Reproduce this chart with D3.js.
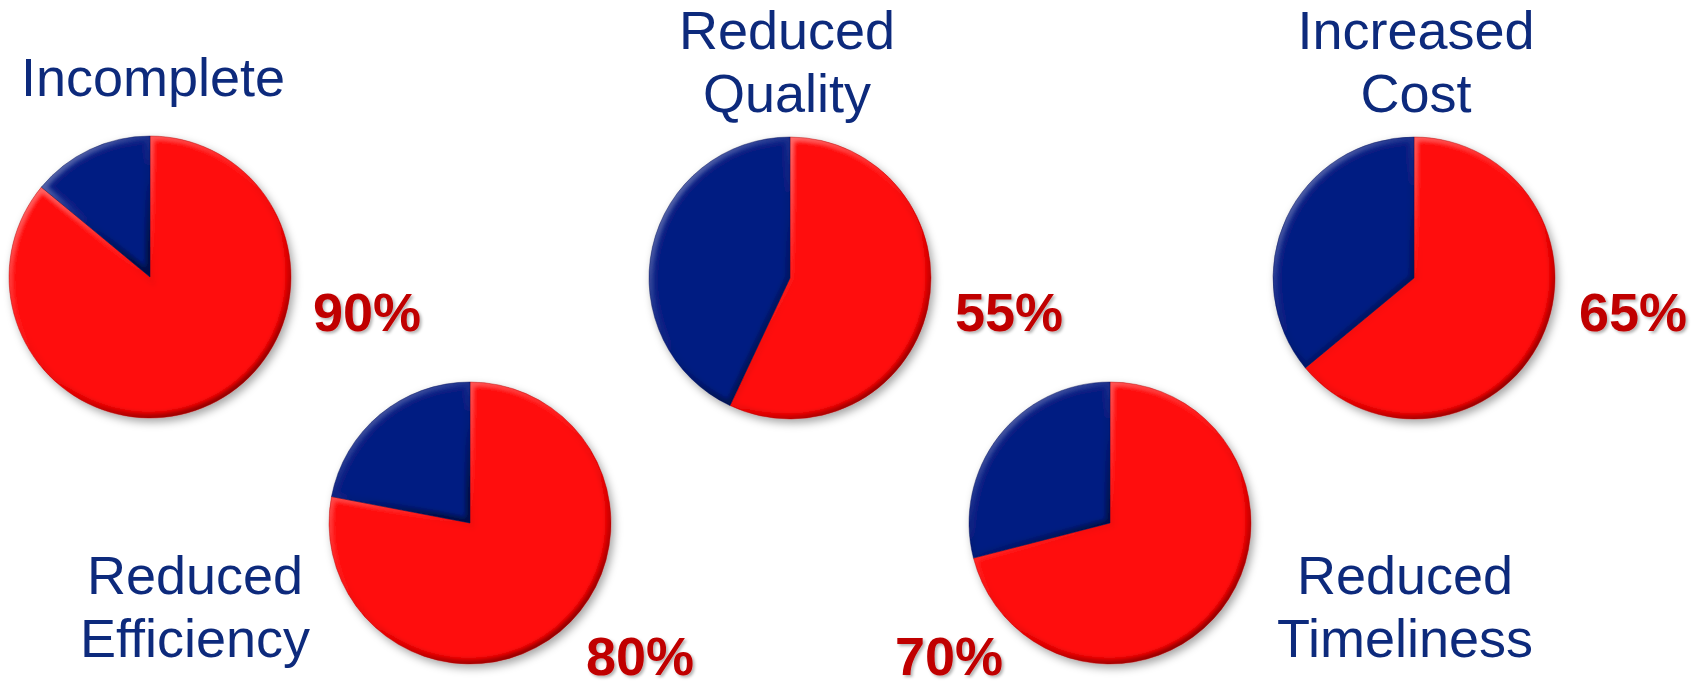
<!DOCTYPE html>
<html>
<head>
<meta charset="utf-8">
<script src="https://cdn.jsdelivr.net/npm/d3@7"></script>
<style>
  body { margin: 0; background: #fff; }
  svg { display: block; }
</style>
</head>
<body>
<div id="chart"></div>
<script>
// categories and values
var categories = ["Incomplete", "Reduced Efficiency", "Reduced Quality", "Reduced Timeliness", "Increased Cost"];
var titleLines = [["Incomplete"], ["Reduced", "Efficiency"], ["Reduced", "Quality"], ["Reduced", "Timeliness"], ["Increased", "Cost"]];
// red share as drawn (slice angle), blue is the rest
var redShare = [86, 78, 57, 71, 64];
var percentLabels = ["90%", "80%", "55%", "70%", "65%"];

var svgWidth = 1704;
var svgHeight = 681;
var radius = 141;

// where each pie and its texts sit
var layout = [
  { cx: 150,  cy: 277, tx: 153,  ty: 96,  px: 313,  py: 331 },
  { cx: 470,  cy: 523, tx: 195,  ty: 594, px: 586,  py: 675 },
  { cx: 790,  cy: 278, tx: 787,  ty: 49,  px: 955,  py: 331 },
  { cx: 1110, cy: 523, tx: 1405, ty: 594, px: 895,  py: 675 },
  { cx: 1414, cy: 278, tx: 1416, ty: 49,  px: 1579, py: 331 }
];

var color = d3.scaleOrdinal()
  .domain(["yes", "no"])
  .range(["#ff0707", "#061c82"]);

var svg = d3.select("#chart")
  .append("svg")
  .attr("width", svgWidth)
  .attr("height", svgHeight);

var defs = svg.append("defs");

var shadow = defs.append("filter")
  .attr("id", "shadow")
  .attr("x", "-20%").attr("y", "-20%")
  .attr("width", "150%").attr("height", "150%");
shadow.append("feDropShadow")
  .attr("dx", 3).attr("dy", 4)
  .attr("stdDeviation", 4)
  .attr("flood-color", "#000")
  .attr("flood-opacity", 0.35);

var textShadow = defs.append("filter")
  .attr("id", "textShadow")
  .attr("x", "-20%").attr("y", "-20%")
  .attr("width", "150%").attr("height", "150%");
textShadow.append("feDropShadow")
  .attr("dx", 2).attr("dy", 2)
  .attr("stdDeviation", 1.5)
  .attr("flood-color", "#000")
  .attr("flood-opacity", 0.3);

var soft = defs.append("filter").attr("id", "soft");
soft.append("feGaussianBlur").attr("stdDeviation", 2.2);

var rim = defs.append("linearGradient")
  .attr("id", "rim")
  .attr("x1", "0").attr("y1", "0")
  .attr("x2", "0.7").attr("y2", "1");
rim.append("stop").attr("offset", "0%").attr("stop-color", "#fff").attr("stop-opacity", 0.55);
rim.append("stop").attr("offset", "45%").attr("stop-color", "#fff").attr("stop-opacity", 0.1);
rim.append("stop").attr("offset", "65%").attr("stop-color", "#000").attr("stop-opacity", 0.05);
rim.append("stop").attr("offset", "100%").attr("stop-color", "#000").attr("stop-opacity", 0.45);

var pie = d3.pie().sort(null).value(d => d.value);
var arc = d3.arc().innerRadius(0).outerRadius(radius);

categories.forEach((cat, i) => {
  var pos = layout[i];
  var slices = pie([
    { key: "yes", value: redShare[i] },
    { key: "no", value: 100 - redShare[i] }
  ]);

  var pieGroup = svg.append("g")
    .attr("transform", `translate(${pos.cx}, ${pos.cy})`)
    .attr("filter", "url(#shadow)");

  slices.forEach((s, j) => {
    var clipId = `clip-${i}-${j}`;
    defs.append("clipPath")
      .attr("id", clipId)
      .append("path")
      .attr("d", arc(s))
      .attr("transform", `translate(${pos.cx}, ${pos.cy})`);

    pieGroup.append("path")
      .attr("d", arc(s))
      .attr("fill", color(s.data.key));

    // bevel edge
    pieGroup.append("g")
      .attr("clip-path", `url(#${clipId})`)
      .attr("transform", `translate(${-pos.cx}, ${-pos.cy})`)
      .append("path")
      .attr("transform", `translate(${pos.cx}, ${pos.cy})`)
      .attr("d", arc(s))
      .attr("fill", "none")
      .attr("stroke", "url(#rim)")
      .attr("stroke-width", 9)
      .attr("filter", "url(#soft)");

    pieGroup.append("path")
      .attr("d", arc(s))
      .attr("fill", "none")
      .attr("stroke", d3.color(color(s.data.key)).darker(1.2))
      .attr("stroke-opacity", 0.5)
      .attr("stroke-width", 0.8);
  });

  svg.append("text")
    .attr("x", pos.tx)
    .attr("y", pos.ty)
    .attr("text-anchor", "middle")
    .attr("font-family", "Liberation Sans, Arial, sans-serif")
    .attr("font-size", "54px")
    .attr("fill", "#0d2a7c")
    .selectAll("tspan")
    .data(titleLines[i])
    .enter()
    .append("tspan")
    .attr("x", pos.tx)
    .attr("dy", (d, k) => k === 0 ? 0 : 62.5)
    .text(d => d);

  svg.append("text")
    .attr("x", pos.px)
    .attr("y", pos.py)
    .attr("font-family", "Liberation Sans, Arial, sans-serif")
    .attr("font-size", "54px")
    .attr("font-weight", "bold")
    .attr("fill", "#c00000")
    .attr("filter", "url(#textShadow)")
    .text(percentLabels[i]);
});
</script>
</body>
</html>
